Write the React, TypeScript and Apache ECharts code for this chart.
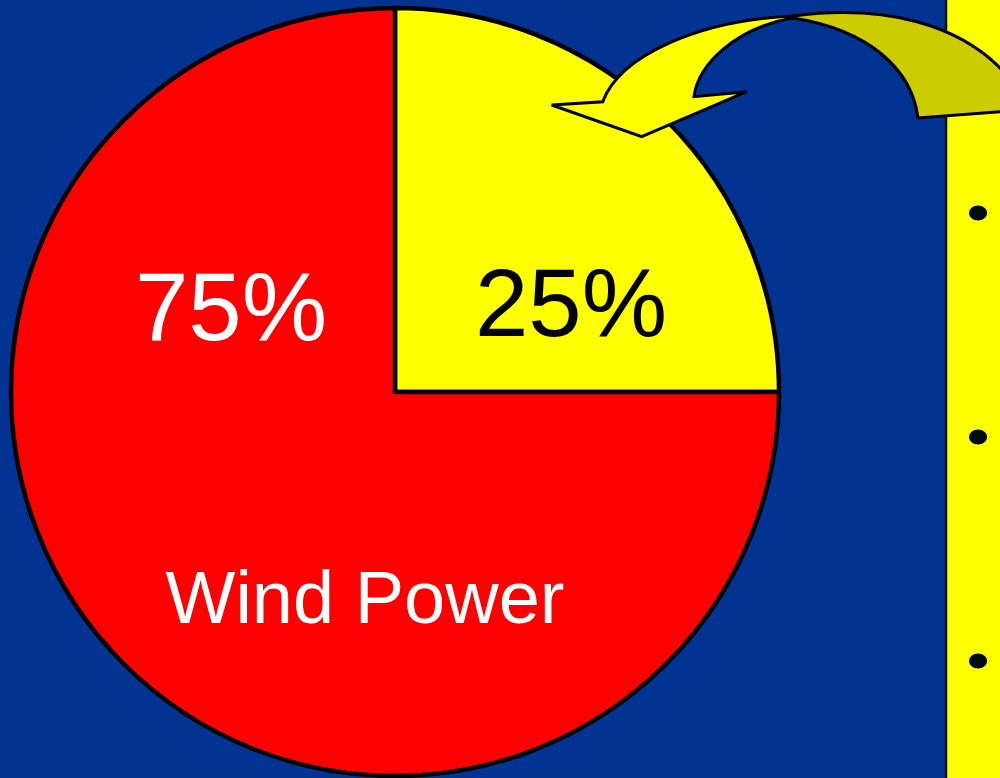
import React, { useEffect, useRef } from "react";
import * as echarts from "echarts";

const categories = ["Other", "Wind Power"];
const values = [25, 75];
const sliceColors = ["#FFFF00", "#FF0000"];
const bulletRows = [213, 437, 661];

const ARROW_FRONT =
  "M 793 16 C 700 20 620 55 602.7 101.7 L 551.7 105 L 641.7 136.7 L 746.7 91.7 L 694 96.7 C 698 65 735 28 793 18 Z";
const ARROW_TAIL =
  "M 793 16 C 870 6 970 15 1022 95 L 1022 110 L 918 118 C 912 70 870 30 793 18 Z";

let registered = false;
function registerShapes() {
  if (registered) return;
  registered = true;
  echarts.graphic.registerShape("arrowFront", echarts.graphic.extendPath(ARROW_FRONT, {}));
  echarts.graphic.registerShape("arrowTail", echarts.graphic.extendPath(ARROW_TAIL, {}));
}

export default function App() {
  const ref = useRef<HTMLDivElement>(null);
  useEffect(() => {
    if (!ref.current) return;
    registerShapes();
    const chart = echarts.init(ref.current, undefined, { renderer: "svg" });
    const font = '"Liberation Sans", Arial, sans-serif';
    chart.setOption({
      animation: false,
      backgroundColor: "#003392",
      graphic: [
        {
          type: "rect",
          z: 0,
          shape: { x: 946, y: -4, width: 70, height: 790 },
          style: { fill: "#FFFF00", stroke: "#111111", lineWidth: 2.5 },
        },
        ...bulletRows.map((y) => ({
          type: "ellipse",
          z: 1,
          shape: { cx: 978, cy: y, rx: 9, ry: 7.5 },
          style: { fill: "#000814" },
        })),
        {
          type: "text",
          z: 100,
          x: 231,
          y: 306,
          style: {
            text: `${values[1]}%`,
            fill: "#FFFFFF",
            fontSize: 96,
            fontFamily: font,
            align: "center",
            verticalAlign: "middle",
          },
        },
        {
          type: "text",
          z: 100,
          x: 571,
          y: 302,
          style: {
            text: `${values[0]}%`,
            fill: "#000000",
            fontSize: 96,
            fontFamily: font,
            align: "center",
            verticalAlign: "middle",
          },
        },
        {
          type: "text",
          z: 100,
          x: 365,
          y: 597,
          style: {
            text: categories[1],
            fill: "#FFFFFF",
            fontSize: 74,
            fontFamily: font,
            align: "center",
            verticalAlign: "middle",
          },
        },
        {
          type: "arrowTail",
          z: 101,
          x: 0,
          y: 0,
          scaleX: 1,
          scaleY: 1,
          style: { fill: "#CCCC00", stroke: "#000000", lineWidth: 3 },
        },
        {
          type: "arrowFront",
          z: 102,
          x: 0,
          y: 0,
          scaleX: 1,
          scaleY: 1,
          style: { fill: "#FFFF00", stroke: "#000000", lineWidth: 3 },
        },
      ],
      series: [
        {
          type: "pie",
          center: [395, 392],
          radius: 384,
          startAngle: 90,
          clockwise: true,
          label: { show: false },
          labelLine: { show: false },
          emphasis: { disabled: true },
          itemStyle: { borderColor: "#000000", borderWidth: 4.5 },
          data: categories.map((name, i) => ({
            name,
            value: values[i],
            itemStyle: { color: sliceColors[i] },
          })),
        },
      ],
    });
    return () => chart.dispose();
  }, []);
  return (
    <div
      ref={ref}
      style={{ position: "fixed", left: 0, top: 0, width: 1000, height: 778 }}
    />
  );
}
